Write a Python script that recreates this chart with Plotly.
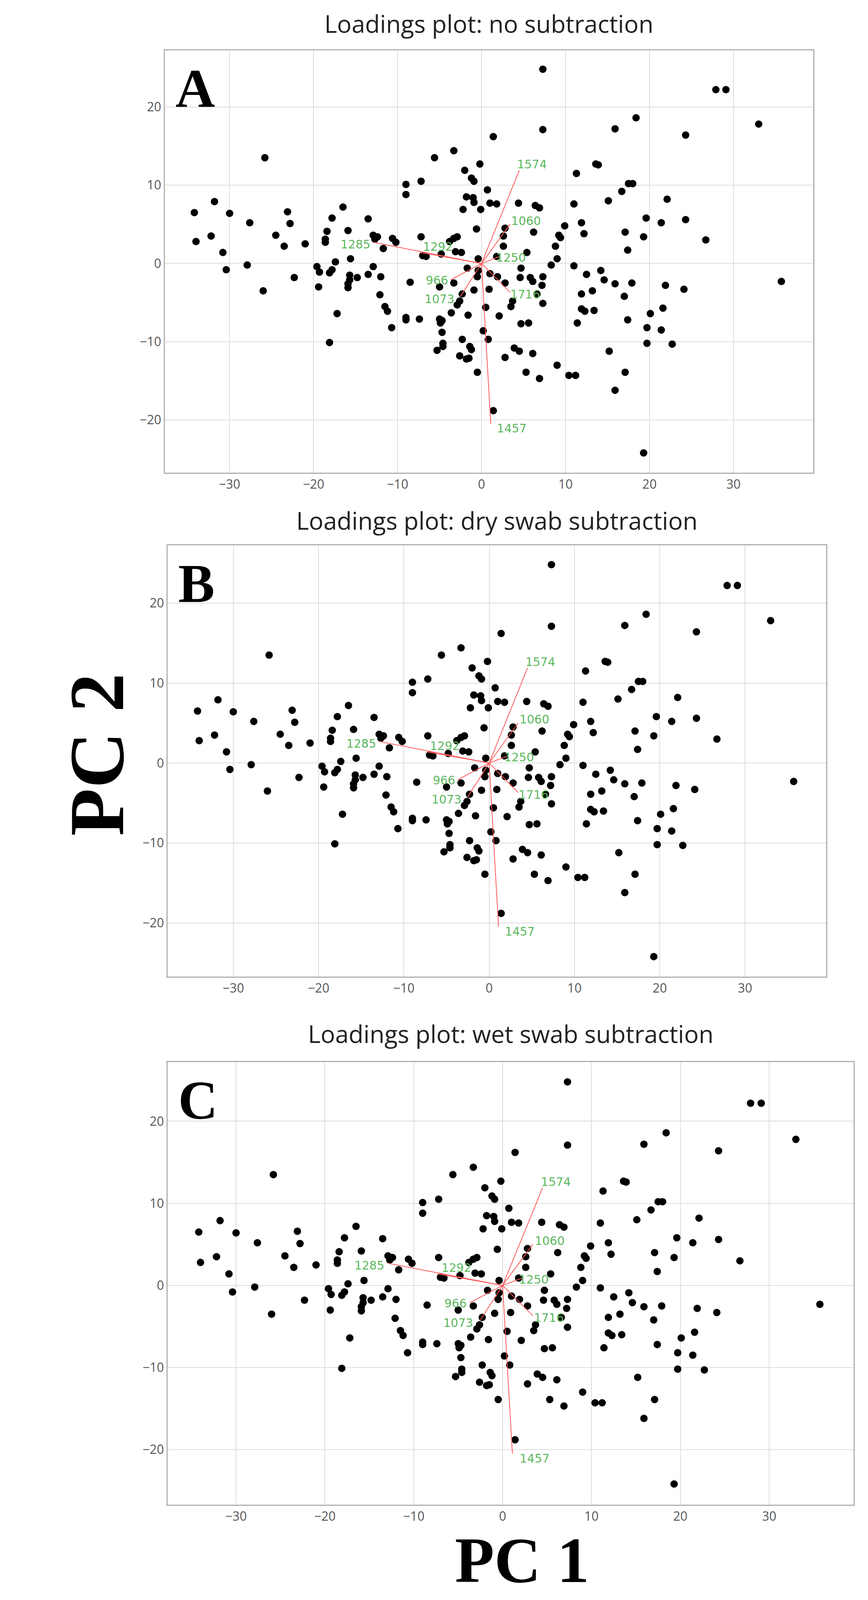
import plotly.graph_objects as go

pts = [(7.3,24.8),(27.9,22.2),(29.1,22.2),(33.0,17.8),(18.4,18.6),(7.3,17.1),(15.9,17.2),(24.3,16.4),
(1.4,16.2),(-25.8,13.5),(-5.6,13.5),(-3.3,14.4),(-0.2,12.7),(13.6,12.7),(13.9,12.6),(11.3,11.5),
(-2.0,11.9),(-1.2,10.9),(-0.9,10.5),(-9.0,10.1),(-9.0,8.8),(-7.2,10.5),(0.7,9.4),(17.5,10.2),(18.0,10.2),
(16.7,9.2),(-1.8,8.5),(-1.0,8.4),(-0.9,7.8),(1.0,7.7),(1.8,7.6),(4.4,7.7),(6.4,7.4),(6.9,7.1),(11.0,7.6),
(22.1,8.2),(15.1,8.0),(-2.2,6.9),(-0.1,6.9),(-31.8,7.9),(-34.2,6.5),(-30.0,6.4),(-23.1,6.6),(-16.5,7.2),
(-13.5,5.7),(-17.8,5.8),(-27.6,5.2),(-22.8,5.1),(19.6,5.8),(21.4,5.2),(24.3,5.6),(11.9,5.2),(9.9,4.8),
(2.8,4.5),(2.6,3.5),(-0.6,4.4),(-15.9,4.2),(6.2,4.0),(17.1,4.0),(12.2,3.8),(9.2,3.6),(9.4,3.3),
(-18.4,4.1),(-18.6,3.1),(-18.6,2.7),(-24.5,3.6),(-32.2,3.5),(-34.0,2.8),(-12.9,3.6),(-12.4,3.4),(-12.7,3.1),
(-10.6,3.2),(-10.2,2.7),(-7.2,3.4),(-3.3,3.2),(-2.9,3.4),(-3.8,2.8),(19.3,3.4),(26.7,3.0),(-21.0,2.5),
(-23.5,2.2),(-11.7,1.9),(8.8,2.2),(2.6,2.2),(17.4,1.7),(-30.8,1.4),(-7.0,1.0),(-6.6,0.9),(-4.8,1.2),
(-3.1,1.5),(-2.4,1.4),(5.4,1.4),(1.8,0.9),(9.0,0.6),(-0.4,0.6),(-15.6,0.6),(-17.4,0.2),(8.3,-0.2),
(11.0,-0.3),(-27.9,-0.2),(-19.6,-0.4),(-19.3,-1.1),(-17.8,-0.8),(-18.1,-1.2),(-30.4,-0.8),(-12.9,-0.4),
(-1.7,-0.6),(-0.4,-0.9),(4.7,-0.6),(14.2,-0.9),(21.9,-2.8),(24.1,-3.3),(35.7,-2.3),(1.0,-1.3),(1.9,-1.7),
(12.5,-1.4),(-15.7,-1.5),(-14.8,-1.8),(-15.7,-2.1),(-15.9,-2.6),(-15.9,-3.1),(-13.5,-1.4),(-12.0,-1.7),
(-22.3,-1.8),(-0.5,-1.7),(4.6,-1.8),(5.8,-1.8),(6.1,-2.3),(7.3,-1.7),(14.6,-2.1),(15.9,-2.6),(17.9,-2.5),
(-8.5,-2.4),(-5.0,-3.0),(-3.3,-2.5),(7.2,-2.8),(-19.4,-3.0),(-26.0,-3.5),(-0.9,-3.4),(0.9,-3.3),
(13.2,-3.5),(11.9,-3.9),(17.0,-4.2),(2.8,-2.5),(6.6,-3.9),(-12.1,-4.0),(-2.3,-3.9),(-2.6,-4.8),(-2.9,-5.3),
(3.7,-4.8),(3.5,-5.5),(7.3,-5.1),(0.5,-5.6),(-11.5,-5.5),(-11.2,-6.1),(11.9,-5.8),(12.3,-6.1),(13.4,-6.0),
(21.6,-5.7),(20.1,-6.4),(-17.2,-6.4),(-3.6,-6.3),(-1.6,-6.6),(2.1,-6.7),(-9.0,-6.9),(-9.0,-7.2),(-7.4,-7.1),
(-5.0,-7.1),(-4.7,-7.3),(-4.9,-7.6),(17.4,-7.2),(4.7,-7.7),(5.6,-7.6),(11.4,-7.6),(19.7,-8.2),(-10.7,-8.2),
(21.4,-8.5),(0.2,-8.6),(-4.7,-8.8),(19.7,-10.2),(-18.1,-10.1),(-2.3,-9.7),(0.8,-9.7),(22.7,-10.3),
(-4.6,-10.2),(-4.6,-10.6),(-5.3,-11.1),(-1.4,-10.6),(-1.2,-11.0),(3.9,-10.8),(4.5,-11.2),(15.2,-11.2),
(6.1,-11.5),(-2.6,-11.8),(-1.5,-12.1),(-1.8,-12.2),(2.8,-12.0),(9.0,-13.0),(10.4,-14.3),(11.2,-14.3),
(17.1,-13.9),(-0.5,-13.9),(5.3,-13.9),(6.9,-14.7),(15.9,-16.2),(1.4,-18.8),(19.3,-24.2)]
pc1 = [p[0] for p in pts]
pc2 = [p[1] for p in pts]

load_names = ["1574", "1060", "1285", "1292", "1250", "966", "1073", "1716", "1457"]
load_x = [4.5, 3.4, -12.9, -7.3, 2.2, -3.7, -2.5, 3.4, 1.1]
load_y = [11.9, 5.0, 2.7, 1.4, 0.9, -2.1, -4.2, -3.7, -20.5]
lab_x = [6.0, 5.3, -15.0, -5.2, 3.5, -5.3, -5.0, 5.2, 3.6]
lab_y = [12.5, 5.3, 2.3, 2.0, 0.6, -2.3, -4.7, -4.1, -21.2]

titles = ["Loadings plot: no subtraction", "Loadings plot: dry swab subtraction", "Loadings plot: wet swab subtraction"]
letters = ["A", "B", "C"]
W, H = 2221, 4561
boxes = [(417, 2088, 135, 1338, 58), (424, 2121, 1546, 2775, 1474), (424, 2192, 3019, 4280, 2937)]
XR = [-37.7, 39.5]
YR = [-26.7, 27.2]

fig = go.Figure()
for i, (l, r, t, b, ty) in enumerate(boxes):
    n = "" if i == 0 else str(i + 1)
    xa, ya = "x" + n, "y" + n
    lx, ly = [], []
    for a, c in zip(load_x, load_y):
        lx += [0, a, None]
        ly += [0, c, None]
    fig.add_trace(go.Scatter(x=pc1, y=pc2, mode="markers", xaxis=xa, yaxis=ya,
                             marker=dict(color="black", size=19), showlegend=False))
    fig.add_trace(go.Scatter(x=lx, y=ly, mode="lines", xaxis=xa, yaxis=ya,
                             line=dict(color="#ff5a5a", width=2), showlegend=False))
    fig.add_trace(go.Scatter(x=lab_x, y=lab_y, mode="text", text=load_names, xaxis=xa, yaxis=ya,
                             textfont=dict(color="#5cb85c", size=30, family="DejaVu Sans"), showlegend=False))
    ax = dict(range=XR, domain=[l / W, r / W], showgrid=True, gridcolor="#dddddd", gridwidth=2,
              zeroline=False, showline=True, linecolor="#b0b0b0", linewidth=3, mirror=True,
              tickvals=[-30, -20, -10, 0, 10, 20, 30], ticks="",
              tickfont=dict(size=32, color="#555555", family="Open Sans"), anchor=ya)
    ay = dict(range=YR, domain=[1 - b / H, 1 - t / H], showgrid=True, gridcolor="#dddddd", gridwidth=2,
              zeroline=False, showline=True, linecolor="#b0b0b0", linewidth=3, mirror=True,
              tickvals=[-20, -10, 0, 10, 20], ticks="",
              tickfont=dict(size=32, color="#555555", family="Open Sans"), anchor=xa)
    fig.update_layout(**{"xaxis" + n: ax, "yaxis" + n: ay})
    fig.add_annotation(text=titles[i], x=(l + r) / 2 / W, y=1 - ty / H, xref="paper", yref="paper",
                       showarrow=False, font=dict(size=62, color="#222222", family="Open Sans"),
                       xanchor="center", yanchor="middle")
    fig.add_annotation(text="<b>" + letters[i] + "</b>", x=(l + 25) / W, y=1 - (t + 20) / H,
                       xref="paper", yref="paper", showarrow=False, xanchor="left", yanchor="top",
                       font=dict(size=140, color="black", family="Liberation Serif"))

fig.add_annotation(text="<b>PC 2</b>", x=128 / W, y=1 - 2142 / H, xref="paper", yref="paper",
                   showarrow=False, textangle=-90, font=dict(size=200, color="black", family="Liberation Serif"))
fig.add_annotation(text="<b>PC 1</b>", x=1338 / W, y=0.004, xref="paper", yref="paper",
                   xanchor="center", yanchor="bottom",
                   showarrow=False, font=dict(size=165, color="black", family="Liberation Serif"))

fig.update_layout(autosize=True, margin=dict(l=0, r=0, t=0, b=0),
                  plot_bgcolor="white", paper_bgcolor="white")
fig.write_html("out.html", default_width="100%", default_height="100vh")
